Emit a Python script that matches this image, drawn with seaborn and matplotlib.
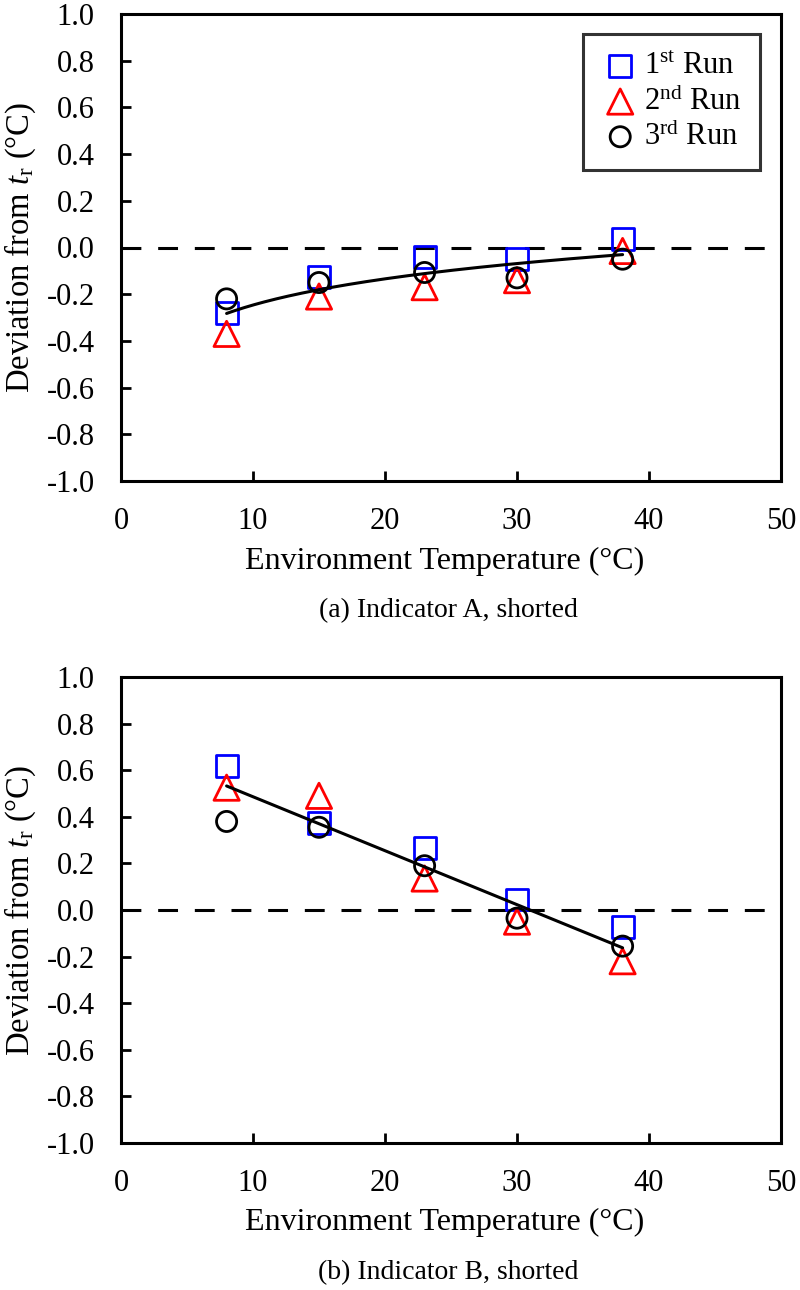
import numpy as np
import pandas as pd
import seaborn as sns
import matplotlib
matplotlib.use('Agg')
import matplotlib.pyplot as plt

# environment temperature (°C)
temps = [8, 15, 23, 30, 38]

# (a) indicator A, shorted
a_run1 = [-0.28, -0.125, -0.04, -0.05, 0.035]
a_run2 = [-0.37, -0.21, -0.17, -0.14, -0.015]
a_run3 = [-0.22, -0.15, -0.107, -0.13, -0.05]

# (b) indicator B, shorted
b_run1 = [0.62, 0.375, 0.265, 0.045, -0.075]
b_run2 = [0.525, 0.49, 0.135, -0.05, -0.22]
b_run3 = [0.38, 0.355, 0.19, -0.035, -0.155]

run_names = [r'1$^{\mathrm{st}}$ Run', r'2$^{\mathrm{nd}}$ Run', r'3$^{\mathrm{rd}}$ Run']
run_colors = ['#0000ff', '#ff0000', '#000000']
run_markers = ['s', '^', 'o']
run_sizes = [250, 330, 210]

xticks = [0, 10, 20, 30, 40, 50]
yticks = [-1.0, -0.8, -0.6, -0.4, -0.2, 0.0, 0.2, 0.4, 0.6, 0.8, 1.0]

sns.set_style('ticks', {'axes.edgecolor': 'black', 'xtick.color': 'black',
                        'ytick.color': 'black', 'text.color': 'black',
                        'axes.labelcolor': 'black'})
plt.rcParams['font.family'] = ['Liberation Serif', 'DejaVu Serif']
plt.rcParams['mathtext.fontset'] = 'custom'
plt.rcParams['mathtext.rm'] = 'Liberation Serif'
plt.rcParams['mathtext.it'] = 'Liberation Serif:italic'


def make_df(r1, r2, r3):
    rows = []
    for name, vals in zip(run_names, [r1, r2, r3]):
        for t, v in zip(temps, vals):
            rows.append({'temp': t, 'dev': v, 'run': name})
    return pd.DataFrame(rows)


def draw_panel(ax, df, fit, caption_y, caption, legend=False):
    ax.axhline(0, color='black', lw=2.2, ls=(0, (6.5, 5.5)), zorder=1)
    for name, c, m, s in zip(run_names, run_colors, run_markers, run_sizes):
        sub = df[df['run'] == name]
        sns.scatterplot(data=sub, x='temp', y='dev', marker=m, s=s,
                        facecolor='none', edgecolor=c, linewidth=2,
                        ax=ax, label=name, zorder=3)

    xs = np.linspace(min(temps), max(temps), 200)
    if fit == 'log':
        k = np.polyfit(np.log(df['temp']), df['dev'], 1)
        ys = k[0] * np.log(xs) + k[1]
    else:
        k = np.polyfit(df['temp'], df['dev'], 1)
        ys = k[0] * xs + k[1]
    sns.lineplot(x=xs, y=ys, color='black', lw=2.2, ax=ax, zorder=4)

    ax.set_xlim(0, 50)
    ax.set_ylim(-1.0, 1.0)
    ax.set_xticks(xticks)
    ax.set_yticks(yticks)
    ax.set_yticklabels(['%.1f' % v for v in yticks])
    ax.tick_params(direction='in', length=7, width=2, labelsize=22, pad=19)
    for sp in ax.spines.values():
        sp.set_linewidth(2.2)
        sp.set_visible(True)
    ax.set_xlabel('Environment Temperature (°C)', fontsize=23, va='center')
    ax.xaxis.set_label_coords(0.491, (481 - 561) / 467)
    ax.set_ylabel(r'Deviation from $\mathit{t}_{\mathrm{r}}$ (°C)', fontsize=23.5, va='center')
    ax.yaxis.set_label_coords((20 - 121) / 660, 0.5)

    if legend:
        leg = ax.legend(loc='upper right', bbox_to_anchor=(0.968, 0.957),
                        borderaxespad=0, fontsize=22, frameon=True,
                        fancybox=False, edgecolor='black', labelspacing=0.15,
                        handletextpad=0.15, handlelength=1.25, borderpad=0.6)
        leg.get_frame().set_linewidth(2.2)
    else:
        ax.get_legend().remove()

    fig.text(448 / 800, 1 - caption_y / 1290, caption, ha='center', va='center', fontsize=20)


fig = plt.figure(figsize=(8, 12.9), dpi=100)
ax1 = fig.add_axes([121 / 800, 1 - 481 / 1290, 660 / 800, 467 / 1290])
ax2 = fig.add_axes([121 / 800, 1 - 1143 / 1290, 660 / 800, 466 / 1290])

draw_panel(ax1, make_df(a_run1, a_run2, a_run3), 'log', 611, '(a) Indicator A, shorted', legend=True)
draw_panel(ax2, make_df(b_run1, b_run2, b_run3), 'lin', 1273, '(b) Indicator B, shorted')

fig.savefig('out.png', dpi=100)
